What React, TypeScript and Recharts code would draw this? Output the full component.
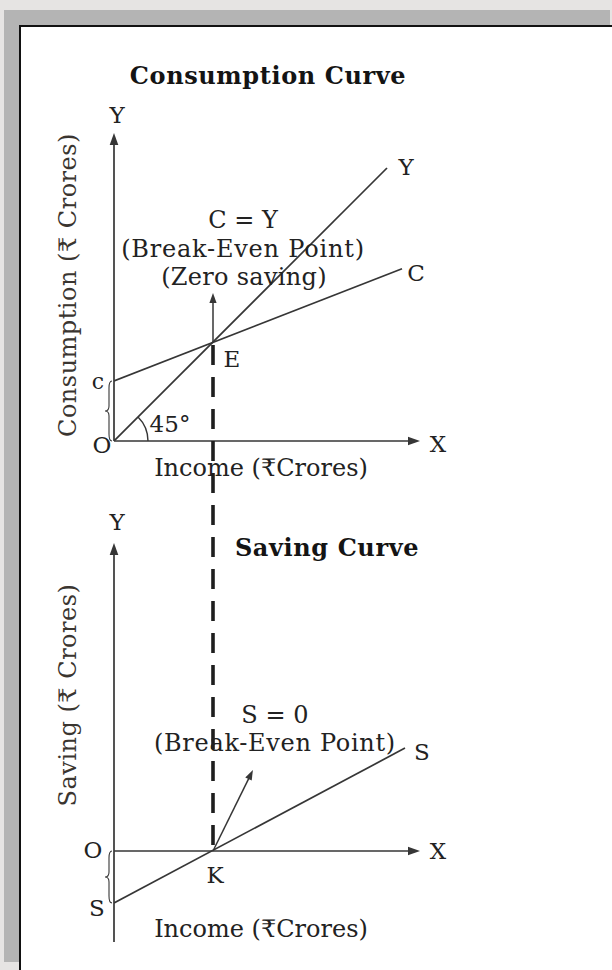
import React from 'react';
import { LineChart, Line, XAxis, YAxis, ReferenceLine, ReferenceDot } from 'recharts';

// consumption curve (upper panel)
const incomeC = [0, 96];
const consumption = [20, 57.4];
const incomeDiag = [0, 91];
const diagonal = [0, 91];
const breakEvenIncome = 33;

// saving curve (lower panel)
const incomeS = [0, 97];
const saving = [-17.3, 34.3];

// axis extents (data units)
const xMax = 102;
const yMax = 102.7;
const ySavMin = -30.3;

const INK = '#363636';
const TXT = '#222222';
const FONT = '"DejaVu Serif", "Liberation Serif", serif';

const W = 612;
const H = 970;

const toPoints = (xs: number[], ys: number[]) => xs.map((x, i) => ({ x, y: ys[i] }));

const consData = toPoints(incomeC, consumption);
const diagData = toPoints(incomeDiag, diagonal);
const savData = toPoints(incomeS, saving);

function arrow(head: number, width: number, dash?: string) {
  return (p: any) => {
    const { x1, y1, x2, y2 } = p;
    const a = Math.atan2(y2 - y1, x2 - x1);
    const hw = head * 0.36;
    const bx = x2 - head * Math.cos(a);
    const by = y2 - head * Math.sin(a);
    const pts = `${x2},${y2} ${bx + hw * Math.sin(a)},${by - hw * Math.cos(a)} ${bx - hw * Math.sin(a)},${by + hw * Math.cos(a)}`;
    return (
      <g>
        <line
          x1={x1}
          y1={y1}
          x2={head ? bx + 1 * Math.cos(a) : x2}
          y2={head ? by + 1 * Math.sin(a) : y2}
          stroke={dash ? '#1e1e1e' : INK}
          strokeWidth={width}
          strokeDasharray={dash}
        />
        {head > 0 && <polygon points={pts} fill={INK} />}
      </g>
    );
  };
}

const brace = (p: any) => {
  const { x1, y1, y2 } = p;
  const x = x1 - 5;
  const top = Math.min(y1, y2);
  const bot = Math.max(y1, y2);
  const mid = (top + bot) / 2;
  const d = `M ${x + 3} ${top} Q ${x} ${top} ${x} ${top + 7} L ${x} ${mid - 5} Q ${x} ${mid} ${x - 4} ${mid} Q ${x} ${mid} ${x} ${mid + 5} L ${x} ${bot - 7} Q ${x} ${bot} ${x + 3} ${bot}`;
  return <path d={d} fill="none" stroke={INK} strokeWidth={1.1} />;
};

const angleArc = (p: any) => {
  const { cx, cy } = p;
  const r = 34;
  const ex = cx + r * Math.cos(Math.PI / 4);
  const ey = cy - r * Math.sin(Math.PI / 4);
  return <path d={`M ${cx + r} ${cy} A ${r} ${r} 0 0 0 ${ex} ${ey}`} fill="none" stroke={INK} strokeWidth={1.4} />;
};

function tag(text: string, dx: number, dy: number, size = 23, spacing = 0) {
  return (p: any) => (
    <text
      x={p.cx + dx}
      y={p.cy + dy}
      textAnchor="middle"
      dominantBaseline="central"
      fontFamily={FONT}
      fontSize={size}
      letterSpacing={spacing}
      fill={TXT}
    >
      {text}
    </text>
  );
}

const axisProps = { hide: true, type: 'number' as const, allowDataOverflow: true };

function ConsumptionChart() {
  return (
    <LineChart width={W} height={H} margin={{ top: 132, right: 192, bottom: 529, left: 114 }}>
      <XAxis {...axisProps} dataKey="x" domain={[0, xMax]} />
      <YAxis {...axisProps} dataKey="y" domain={[0, 103]} />
      <ReferenceLine segment={[{ x: 0, y: 0 }, { x: xMax, y: 0 }]} ifOverflow="visible" shape={arrow(12, 1.7)} />
      <ReferenceLine segment={[{ x: 0, y: 0 }, { x: 0, y: yMax }]} ifOverflow="visible" shape={arrow(12, 1.7)} />
      <Line data={diagData} dataKey="y" stroke={INK} strokeWidth={1.7} dot={false} isAnimationActive={false} />
      <Line data={consData} dataKey="y" stroke={INK} strokeWidth={1.7} dot={false} isAnimationActive={false} />
      <ReferenceLine
        segment={[{ x: breakEvenIncome, y: breakEvenIncome }, { x: breakEvenIncome, y: 49.3 }]}
        ifOverflow="visible"
        shape={arrow(10, 1.5)}
      />
      <ReferenceLine segment={[{ x: 0, y: 0 }, { x: 0, y: consumption[0] }]} ifOverflow="visible" shape={brace} />
      <ReferenceDot x={0} y={0} ifOverflow="visible" shape={angleArc} />
      <ReferenceDot x={0} y={0} ifOverflow="visible" shape={tag('45°', 56, -17)} />
      <ReferenceDot x={0} y={0} ifOverflow="visible" shape={tag('O', -12, 4)} />
      <ReferenceDot x={0} y={consumption[0]} ifOverflow="visible" shape={tag('c', -16, 0, 22)} />
      <ReferenceDot x={0} y={yMax} ifOverflow="visible" shape={tag('Y', 3, -18)} />
      <ReferenceDot x={xMax} y={0} ifOverflow="visible" shape={tag('X', 18, 3)} />
      <ReferenceDot x={breakEvenIncome} y={breakEvenIncome} ifOverflow="visible" shape={tag('E', 19, 17)} />
      <ReferenceDot x={incomeDiag[1]} y={diagonal[1]} ifOverflow="visible" shape={tag('Y', 19, -1)} />
      <ReferenceDot x={incomeC[1]} y={consumption[1]} ifOverflow="visible" shape={tag('C', 14, 4)} />
      <ReferenceDot x={breakEvenIncome} y={49.3} ifOverflow="visible" shape={tag('C = Y', 30, -73, 24)} />
      <ReferenceDot x={breakEvenIncome} y={49.3} ifOverflow="visible" shape={tag('(Break-Even Point)', 30, -44, 24, 0.8)} />
      <ReferenceDot x={breakEvenIncome} y={49.3} ifOverflow="visible" shape={tag('(Zero saving)', 31, -16, 24, 0.3)} />
    </LineChart>
  );
}

function SavingChart() {
  return (
    <LineChart width={W} height={H} margin={{ top: 542, right: 192, bottom: 29, left: 114 }}>
      <XAxis {...axisProps} dataKey="x" domain={[0, xMax]} />
      <YAxis {...axisProps} dataKey="y" domain={[-30, 103]} />
      <ReferenceLine segment={[{ x: 0, y: 0 }, { x: xMax, y: 0 }]} ifOverflow="visible" shape={arrow(12, 1.7)} />
      <ReferenceLine segment={[{ x: 0, y: ySavMin }, { x: 0, y: yMax }]} ifOverflow="visible" shape={arrow(12, 1.7)} />
      <Line data={savData} dataKey="y" stroke={INK} strokeWidth={1.7} dot={false} isAnimationActive={false} />
      <ReferenceLine
        segment={[{ x: breakEvenIncome, y: 168.7 }, { x: breakEvenIncome, y: 0 }]}
        ifOverflow="visible"
        shape={arrow(0, 3.6, '20 12')}
      />
      <ReferenceLine
        segment={[{ x: breakEvenIncome, y: 0 }, { x: 46.3, y: 27 }]}
        ifOverflow="visible"
        shape={arrow(10, 1.5)}
      />
      <ReferenceLine segment={[{ x: 0, y: saving[0] }, { x: 0, y: 0 }]} ifOverflow="visible" shape={brace} />
      <ReferenceDot x={0} y={0} ifOverflow="visible" shape={tag('O', -21, -1)} />
      <ReferenceDot x={0} y={saving[0]} ifOverflow="visible" shape={tag('S', -17, 5)} />
      <ReferenceDot x={0} y={yMax} ifOverflow="visible" shape={tag('Y', 3, -21)} />
      <ReferenceDot x={xMax} y={0} ifOverflow="visible" shape={tag('X', 18, 0)} />
      <ReferenceDot x={breakEvenIncome} y={0} ifOverflow="visible" shape={tag('K', 2, 24)} />
      <ReferenceDot x={incomeS[1]} y={saving[1]} ifOverflow="visible" shape={tag('S', 17, 4)} />
      <ReferenceDot x={46.3} y={27} ifOverflow="visible" shape={tag('S = 0', 22, -55, 24)} />
      <ReferenceDot x={46.3} y={27} ifOverflow="visible" shape={tag('(Break-Even Point)', 22, -27, 24, 0.7)} />
    </LineChart>
  );
}

const layer: React.CSSProperties = { position: 'absolute', left: 0, top: 0 };

export default function App() {
  const t = { fontFamily: FONT, fill: TXT, fontSize: 24, textAnchor: 'middle' as const, dominantBaseline: 'central' as const };
  return (
    <div style={{ position: 'absolute', left: 0, top: 0, width: W, height: H, overflow: 'hidden', background: '#e6e4e3' }}>
      <div style={{ position: 'absolute', left: 4, top: 10, right: 2, bottom: 8, background: '#b4b4b4' }} />
      <div
        style={{
          position: 'absolute',
          left: 19,
          top: 25,
          right: 0,
          bottom: 0,
          background: '#ffffff',
          borderLeft: '2px solid #111',
          borderTop: '2px solid #111',
        }}
      />
      <svg width={W} height={H} style={layer}>
        <text {...t} x={268} y={75} fontWeight="bold" letterSpacing={0.6} fill="#141414">
          Consumption Curve
        </text>
        <text {...t} x={327} y={547} fontWeight="bold" letterSpacing={0.6} fill="#141414">
          Saving Curve
        </text>
        <text {...t} x={261} y={468}>Income (₹Crores)</text>
        <text {...t} x={261} y={929}>Income (₹Crores)</text>
        <text {...t} x={68} y={285} letterSpacing={0.5} transform="rotate(-90 68 285)" fill="#3a3530">
          Consumption (₹ Crores)
        </text>
        <text {...t} x={68} y={695} letterSpacing={0.5} transform="rotate(-90 68 695)" fill="#3a3530">
          Saving (₹ Crores)
        </text>
      </svg>
      <div style={layer}>
        <ConsumptionChart />
      </div>
      <div style={layer}>
        <SavingChart />
      </div>
    </div>
  );
}
